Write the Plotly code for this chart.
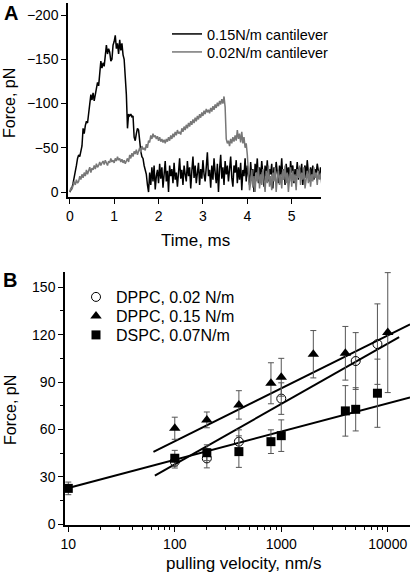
import numpy as np
import plotly.graph_objects as go

# ---------------- Panel A data (force traces, pN; sampled every dt_ms) ----------------
dt_ms = 0.025
force_015 = [
    0, -2, -5, -10, -16, -20, -30, -38, -42, -40,
    -45, -52, -72, -66, -75, -80, -78, -88, -96, -110,
    -104, -112, -103, -112, -118, -124, -120, -135, -148, -140,
    -146, -142, -158, -166, -156, -162, -158, -148, -150, -166,
    -170, -177, -162, -168, -156, -172, -160, -168, -155, -150,
    -130, -110, -72, -88, -86, -88, -85, -86, -62, -58,
    -66, -72, -70, -52, -46, -40, -38, -30, -25, -20,
    -8, 0,
    -22, -8, -28, -12, -30, -3, -18, -25, -10, -32,
    -15, -28, -5, -20, -35, -12, -24, 0, -30, -18,
    -26, -10, -33, -14, -22, -6, -27, -38, -15, -25,
    -8, -30, -20, -12, -35, -18, -28, -4, -24, -40,
    -16, -30, -10, -22, -33, -8, -26, -15, -36, -20,
    -12, -28, -45, -18, -25, -5, -30, -14, -38, -22,
    -10, -32, 0, -26, -42, -15, -28, -8, -35, -20,
    -30, -12, -24, -40, -16, -6, -30, -22, -36, -10,
    -28, -14, -33, -2, -25, -18, -38, -12, -30, -20,
    -8, -34, -16, -26, 0, -32, -22, -38, -10, -28,
    -15, -35, -24, -6, -30, -18, -36, -12, -26, -20,
    -32, -4, -28, -16, -34, -22, -10, -30, -18, -38,
    -14, -26, -8, -32, -20, -28, -12, -35, -22, -30,
    -10, -26, -18, -34, -14, -28, -20, -32, -8, -24,
    -30, -16, -36, -22, -12, -28, -18, -30, -14, -26,
    -20, -32, -24, -16, -28, -22, -30,
]
force_002 = [
    0, -5, -3, -8, -12, -8, -14, -10, -12, -18,
    -14, -20, -16, -22, -18, -25, -20, -24, -28, -22,
    -27, -25, -30, -26, -32, -28, -30, -34, -30, -33,
    -35, -31, -36, -33, -30, -35, -33, -38, -34, -36,
    -33, -38, -35, -40, -36, -38, -34, -37, -33, -36,
    -32, -35, -38, -34, -42, -38, -44, -40, -46, -43,
    -48, -42, -46, -50, -45, -52, -48, -50, -47, -54,
    -50, -58, -56, -64, -60, -66, -62, -64, -60, -63,
    -58, -62, -57, -60, -56, -59, -55, -60, -57, -62,
    -58, -64, -60, -66, -62, -68, -64, -70, -66, -68,
    -65, -72, -68, -74, -70, -76, -72, -78, -74, -80,
    -76, -82, -78, -84, -80, -86, -82, -88, -84, -90,
    -86, -92, -88, -94, -90, -93, -89, -95, -91, -97,
    -93, -99, -95, -101, -97, -103, -99, -105, -100, -108,
    -96, -60, -55, -58, -52, -60, -55, -62, -57, -64,
    -58, -70, -60, -66, -56, -68, -55, -62, -50, -55,
    -42, -20, -2,
    -10, -25, -5, -18, 0, -22, -12, -28, -4, -20,
    -8, -26, -14, 0, -24, -10, -30, -6, -18, -2,
    -22, -12, -28, 0, -16, -24, -8, -20, -4, -26,
    -14, -30, -10, -22, 0, -18, -28, -6, -24, -12,
    -20, -2, -26, -16, -30, -8, -22, -14, -28, -4,
    -18, -24, -10, -26, -6, -20, -12, -28, -16, -22,
    -8, -24, -14, -20, -10, 0,
]
time_015 = np.arange(len(force_015)) * dt_ms
time_002 = np.arange(len(force_002)) * dt_ms

# ---------------- Panel B data ----------------
vel_dppc002 = [100, 200, 400, 1000, 5000, 8000]
f_dppc002 = [39.5, 41.6, 52.2, 79.5, 103.3, 114.0]
e_dppc002 = [4, 6, 7.5, 10, 18, 25.5]

vel_dppc015 = [100, 200, 400, 800, 1000, 2000, 4000, 10000]
f_dppc015 = [60.7, 66.0, 75.5, 89.2, 93.0, 107.6, 108.2, 121.3]
e_dppc015 = [7, 5, 9, 13, 12, 15, 17, 38]

vel_dspc = [10, 100, 200, 400, 800, 1000, 4000, 5000, 8000]
f_dspc = [22.6, 41.7, 45.2, 45.9, 52.2, 56.0, 71.7, 72.7, 82.9]
e_dspc = [4, 5, 5, 10, 7.5, 10, 16, 13.7, 21.6]

# log-linear fits: F = a + b*(log10(v) - log10(v_ref)), drawn between v_lo and v_hi
fit_dppc002 = dict(a=37.8, b=38.3, v_ref=100, v_lo=65, v_hi=12800)
fit_dppc015 = dict(a=52.5, b=33.5, v_ref=100, v_lo=63, v_hi=16200)
fit_dspc = dict(a=22.8, b=17.9, v_ref=10, v_lo=10, v_hi=16200)

FONT = "Liberation Sans, Arial, sans-serif"
fig = go.Figure()

# Panel A traces
fig.add_trace(go.Scatter(x=time_015, y=force_015, mode="lines", name="0.15N/m cantilever",
                         line=dict(color="black", width=1.5), xaxis="x", yaxis="y", legend="legend"))
fig.add_trace(go.Scatter(x=time_002, y=force_002, mode="lines", name="0.02N/m cantilever",
                         line=dict(color="#777777", width=1.5), xaxis="x", yaxis="y", legend="legend2"))

# Panel B fits
def fit_line(p):
    v = np.array([p["v_lo"], p["v_hi"]], dtype=float)
    return v, p["a"] + p["b"] * (np.log10(v) - np.log10(p["v_ref"]))

for p in (fit_dppc015, fit_dppc002, fit_dspc):
    vx, fy = fit_line(p)
    fig.add_trace(go.Scatter(x=vx, y=fy, mode="lines", line=dict(color="black", width=2),
                             showlegend=False, xaxis="x2", yaxis="y2", hoverinfo="skip"))

err_style = dict(type="data", color="#555555", thickness=1, width=3)
fig.add_trace(go.Scatter(x=vel_dppc002, y=f_dppc002, mode="markers", name="DPPC, 0.02 N/m",
                         marker=dict(symbol="circle-open", size=9, color="black", line=dict(width=1)),
                         error_y=dict(array=e_dppc002, **err_style),
                         xaxis="x2", yaxis="y2", legend="legend3"))
fig.add_trace(go.Scatter(x=vel_dppc015, y=f_dppc015, mode="markers", name="DPPC, 0.15 N/m",
                         marker=dict(symbol="triangle-up", size=10, color="black"),
                         error_y=dict(array=e_dppc015, **err_style),
                         xaxis="x2", yaxis="y2", legend="legend4"))
fig.add_trace(go.Scatter(x=vel_dspc, y=f_dspc, mode="markers", name="DSPC, 0.07N/m",
                         marker=dict(symbol="square", size=9, color="black"),
                         error_y=dict(array=e_dspc, **err_style),
                         xaxis="x2", yaxis="y2", legend="legend5"))

W, H = 411, 574
def px_x(v): return v / W
def px_y(v): return 1 - v / H

axis_common = dict(showgrid=False, zeroline=False, showline=True, linecolor="black", linewidth=1.5,
                   ticks="outside", tickcolor="black", tickwidth=1.3, ticklen=5, automargin=False,
                   tickfont=dict(family=FONT, size=14, color="black"), mirror=False)

def leg(x, y, size):
    return dict(x=px_x(x), y=px_y(y), xanchor="left", yanchor="middle", bgcolor="rgba(0,0,0,0)",
                font=dict(family=FONT, size=size, color="black"), borderwidth=0)

fig.update_layout(
    width=W, height=H, margin=dict(l=0, r=0, t=0, b=0, autoexpand=False),
    paper_bgcolor="white", plot_bgcolor="white",
    font=dict(family=FONT, color="black"),
    xaxis=dict(domain=[px_x(68), px_x(321)], anchor="y", range=[-0.04, 5.66],
               tickvals=[0, 1, 2, 3, 4, 5], **axis_common),
    yaxis=dict(domain=[px_y(197), px_y(3)], anchor="x", range=[5.6, -213.6],
               tickvals=[0, -50, -100, -150, -200], **axis_common),
    xaxis2=dict(domain=[px_x(65), px_x(410)], anchor="y2", type="log", range=[0.969, 4.209],
                tickvals=[10, 100, 1000, 10000], ticktext=["10", "100", "1000", "10000"],
                minor=dict(ticks="outside", ticklen=3, tickcolor="black", tickwidth=1.2,
                           tickvals=[v * m for v in (10, 100, 1000) for m in range(2, 10)] + [20000]),
                **axis_common),
    yaxis2=dict(domain=[px_y(525), px_y(272)], anchor="x2", range=[-0.6, 159.7],
                tickvals=[0, 30, 60, 90, 120, 150],
                minor=dict(ticks="outside", ticklen=3, tickcolor="black", tickwidth=1.2,
                           tickvals=[15, 45, 75, 105, 135]),
                **axis_common),
    legend=leg(167, 34, 14.5),
    legend2=leg(167, 52, 14.5),
    legend3=leg(76, 297, 16),
    legend4=leg(76, 316, 16),
    legend5=leg(76, 335, 16),
    showlegend=True,
)

ann = [
    dict(text="<b>A</b>", x=px_x(11), y=px_y(13), font=dict(size=20)),
    dict(text="<b>B</b>", x=px_x(10), y=px_y(280), font=dict(size=20)),
    dict(text="Time, ms", x=px_x(195), y=px_y(240), font=dict(size=17)),
    dict(text="Force, pN", x=px_x(10), y=px_y(103), font=dict(size=16), textangle=-90),
    dict(text="pulling velocity, nm/s", x=px_x(244), y=px_y(563), font=dict(size=17)),
    dict(text="Force, pN", x=px_x(10), y=px_y(410), font=dict(size=16), textangle=-90),
]
for a in ann:
    a.update(xref="paper", yref="paper", showarrow=False, xanchor="center", yanchor="middle")
    a["font"].update(family=FONT, color="black")
fig.update_layout(annotations=ann)

fig.write_html("out.html", config={"displayModeBar": False},
               post_script="document.body.style.margin='0';document.body.style.padding='0';")
